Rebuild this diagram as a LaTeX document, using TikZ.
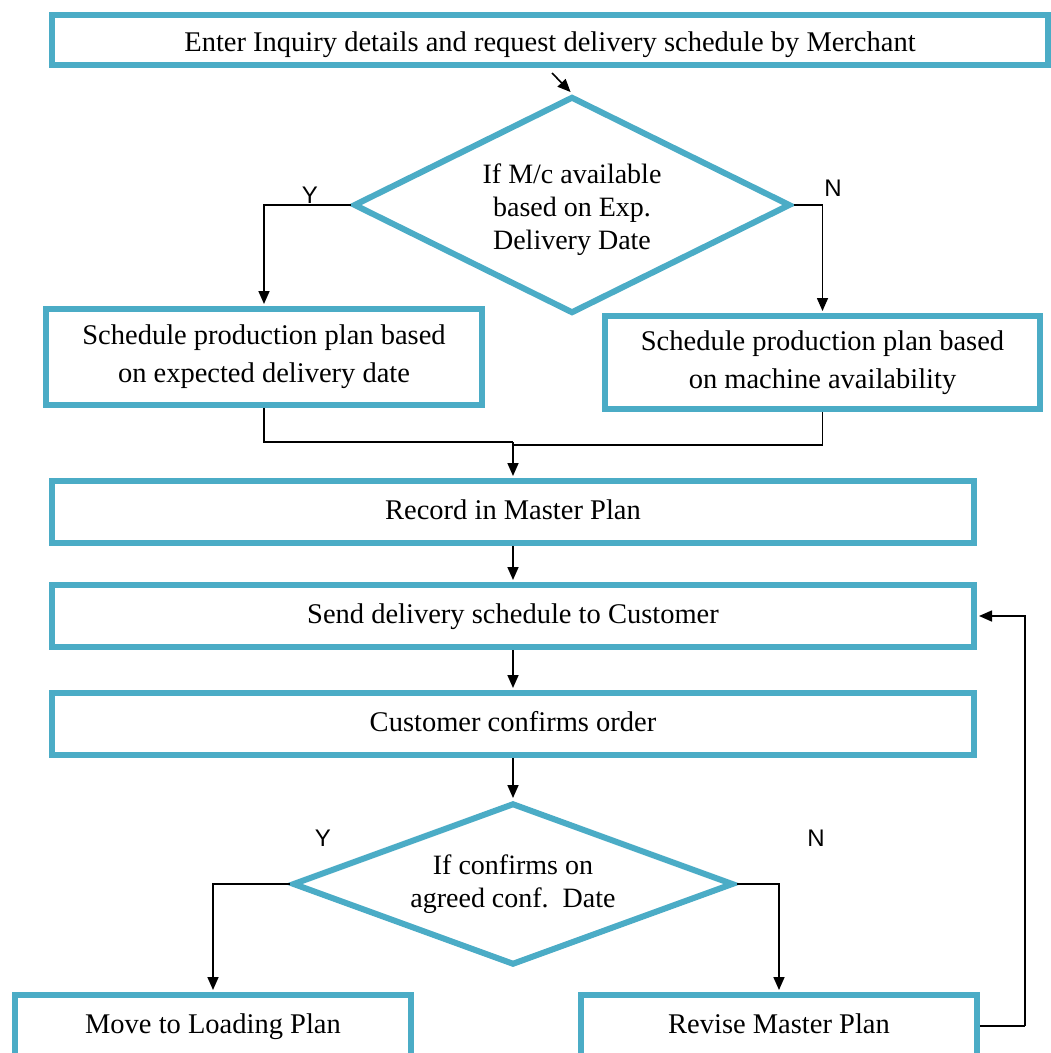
\documentclass[tikz,border=0pt]{standalone}
\usepackage{fontspec}
\setmainfont{Liberation Serif}
\newfontfamily\labelfont{Liberation Sans}
\usetikzlibrary{shapes.geometric,arrows.meta}
\definecolor{boxc}{HTML}{4BACC6}
\tikzset{
  stepbox/.style={draw=boxc, line width=6pt, fill=white, inner sep=0pt, align=center,
    font=\fontsize{28.5}{38}\selectfont},
  decision/.style={diamond, draw=boxc, line width=6pt, fill=white, inner sep=0pt, align=center,
    font=\fontsize{28}{33}\selectfont},
  link/.style={draw=black, line width=1.6pt},
  arr/.style={link, -{Triangle[length=13pt,width=11pt]}, shorten >=2pt},
  yn/.style={font=\labelfont\fontsize{24}{24}\selectfont, inner sep=0pt},
  oneline/.style={text height=20pt, text depth=6pt}
}
\begin{document}
\begin{tikzpicture}[x=1pt,y=-1pt]
\useasboundingbox (0,0) rectangle (1051,1053);
\fill[white] (0,0) rectangle (1051,1053);

% process boxes and decisions
\node[stepbox, oneline, minimum width=996pt, minimum height=50pt] (inq) at (550,40)
  {\raisebox{-4pt}{Enter Inquiry details and request delivery schedule by Merchant}};
\node[decision, aspect=2, minimum width=437pt, minimum height=217pt] (mc) at (572,205)
  {\raisebox{-5pt}[\height][\depth]{\begin{tabular}{@{}c@{}}If M/c available\\based on Exp.\\Delivery Date\end{tabular}}};
\node[stepbox, minimum width=436pt, minimum height=96pt] (pexp) at (264,357)
  {Schedule production plan based\\on expected delivery date};
\node[stepbox, minimum width=435pt, minimum height=93pt] (pmc) at (822.5,362.5)
  {Schedule production plan based\\on machine availability};
\node[stepbox, oneline, minimum width=922pt, minimum height=62pt] (rec) at (513,512)
  {Record in Master Plan};
\node[stepbox, oneline, minimum width=922pt, minimum height=62pt] (send) at (513,616)
  {Send delivery schedule to Customer};
\node[stepbox, oneline, minimum width=922pt, minimum height=62pt] (conf) at (513,724)
  {Customer confirms order};
\node[decision, aspect=2.7, minimum width=441pt, minimum height=162pt] (agree) at (513,884)
  {If confirms on\\agreed conf.\ \ Date};
\node[stepbox, oneline, minimum width=396pt, minimum height=62pt] (load) at (213,1026)
  {Move to Loading Plan};
\node[stepbox, oneline, minimum width=396pt, minimum height=62pt] (rev) at (779,1026)
  {Revise Master Plan};

% junction points and return path
\coordinate (jl) at (513,442);
\coordinate (jr) at (513,445);
\coordinate (back) at (1025,1026);

% connectors
\draw[arr] ([xshift=2pt,yshift=-5pt]inq.south) -- (mc.north);
\draw[arr] (mc.west) -| (pexp.north);
\draw[arr] (mc.east) -| (pmc.north);
\draw[link] (pexp.south) |- (jl);
\draw[link] (pmc.south) |- (jr);
\draw[arr] (jl) -- (rec.north);
\draw[arr] (rec) -- (send);
\draw[arr] (send) -- (conf);
\draw[arr] (conf) -- (agree.north);
\draw[arr] (agree.west) -| (load.north);
\draw[arr] (agree.east) -| (rev.north);
\draw[link] (rev.east) -- (back);
\draw[arr] (back) |- (send.east);

% branch labels
\node[yn] (y1) at (310,195) {Y};
\node[yn] (n1) at (833,188) {N};
\node[yn] (y2) at (323,838) {Y};
\node[yn] (n2) at (816,838) {N};
\end{tikzpicture}
\end{document}
